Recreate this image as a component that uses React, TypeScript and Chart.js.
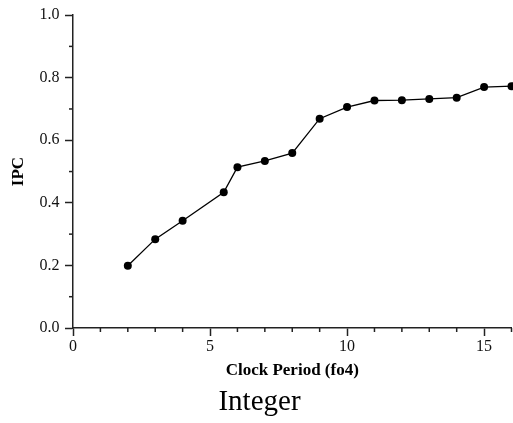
import React, { useEffect, useRef } from "react";
import { Chart, registerables } from "chart.js";

Chart.register(...registerables);

const clockPeriod: number[] = [2, 3, 4, 5.5, 6, 7, 8, 9, 10, 11, 12, 13, 14, 15, 16];
const ipcValues: number[] = [0.199, 0.284, 0.343, 0.434, 0.514, 0.534, 0.559, 0.669, 0.706, 0.727, 0.728, 0.732, 0.736, 0.77, 0.773];
const xTitle = "Clock Period (fo4)";
const yTitle = "IPC";
const chartTitle = "Integer";
const xMajorStep = 5;
const yMajorStep = 0.2;

const FONT = "'Liberation Serif', 'Times New Roman', serif";
const AXIS_COLOR = "#222";

const isMajor = (v: number, step: number) => Math.abs(v / step - Math.round(v / step)) < 1e-6;

const minorTicks = {
  id: "minorTicks",
  afterDraw(chart: any) {
    const ctx = chart.ctx;
    ctx.save();
    ctx.strokeStyle = AXIS_COLOR;
    ctx.lineWidth = 1.5;
    const xs = chart.scales.x;
    const ys = chart.scales.y;
    xs.ticks.forEach((t: any) => {
      if (isMajor(t.value, xMajorStep)) return;
      const px = xs.getPixelForValue(t.value);
      ctx.beginPath();
      ctx.moveTo(px, xs.top);
      ctx.lineTo(px, xs.top + 4);
      ctx.stroke();
    });
    ys.ticks.forEach((t: any) => {
      if (isMajor(t.value, yMajorStep)) return;
      const py = ys.getPixelForValue(t.value);
      ctx.beginPath();
      ctx.moveTo(ys.right, py);
      ctx.lineTo(ys.right - 4, py);
      ctx.stroke();
    });
    ctx.restore();
  },
};

export default function App() {
  const ref = useRef<HTMLCanvasElement>(null);
  useEffect(() => {
    if (!ref.current) return;
    const chart = new Chart(ref.current, {
      type: "line",
      data: {
        datasets: [
          {
            data: clockPeriod.map((x, i) => ({ x, y: ipcValues[i] })),
            borderColor: "#000",
            backgroundColor: "#000",
            borderWidth: 1.3,
            pointRadius: 4,
            pointBackgroundColor: "#000",
            pointBorderWidth: 0,
            tension: 0,
            clip: false as any,
          },
        ],
      },
      plugins: [minorTicks],
      options: {
        animation: false,
        responsive: false,
        layout: { autoPadding: false, padding: { left: 7, right: 1, top: 15, bottom: 0 } },
        plugins: {
          legend: { display: false },
          tooltip: { enabled: false },
          title: {
            display: true,
            position: "bottom",
            text: chartTitle,
            color: "#000",
            font: { family: FONT, size: 29, weight: "normal" },
            padding: { top: 0, bottom: 3 },
          },
        },
        scales: {
          x: {
            type: "linear",
            min: 0,
            max: 16,
            afterFit: (s: any) => {
              s.height = 57.2;
            },
            ticks: {
              stepSize: 1,
              autoSkip: false,
              maxRotation: 0,
              padding: 1.5,
              color: "#111",
              font: { family: FONT, size: 16 },
              callback: (v: any) => (isMajor(Number(v), xMajorStep) ? String(Math.round(Number(v))) : ""),
            },
            grid: {
              drawOnChartArea: false,
              drawTicks: true,
              tickLength: 8,
              tickWidth: 1.5,
              tickColor: (c: any) => (c.tick && isMajor(c.tick.value, xMajorStep) ? AXIS_COLOR : "rgba(0,0,0,0)"),
            },
            border: { display: true, color: AXIS_COLOR, width: 1.5 },
            title: {
              display: true,
              text: xTitle,
              color: "#000",
              font: { family: FONT, size: 17, weight: "bold" },
              padding: { top: 0, bottom: 4 },
            },
          },
          y: {
            type: "linear",
            min: 0,
            max: 1,
            afterFit: (s: any) => {
              s.width = 66;
            },
            ticks: {
              stepSize: 0.1,
              autoSkip: false,
              padding: 5.5,
              color: "#111",
              font: { family: FONT, size: 16 },
              callback: (v: any) => (isMajor(Number(v), yMajorStep) ? Number(v).toFixed(1) : ""),
            },
            grid: {
              drawOnChartArea: false,
              drawTicks: true,
              tickLength: 8,
              tickWidth: 1.5,
              tickColor: (c: any) => (c.tick && isMajor(c.tick.value, yMajorStep) ? AXIS_COLOR : "rgba(0,0,0,0)"),
            },
            border: { display: true, color: AXIS_COLOR, width: 1.5 },
            title: {
              display: true,
              text: yTitle,
              color: "#000",
              font: { family: FONT, size: 17, weight: "bold" },
              padding: { top: 1, bottom: 0 },
            },
          },
        },
      },
    });
    return () => chart.destroy();
  }, []);
  return (
    <canvas
      ref={ref}
      width={513}
      height={423}
      style={{ position: "absolute", left: 0, top: 0, display: "block", width: 513, height: 423 }}
    />
  );
}
